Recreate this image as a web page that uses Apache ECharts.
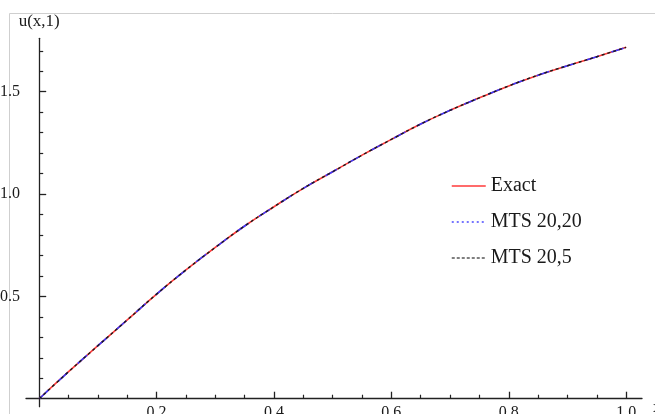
<!DOCTYPE html>
<html>
<head>
<meta charset="utf-8">
<script src="https://cdn.jsdelivr.net/npm/echarts@6/dist/echarts.min.js"></script>
<style>
html,body{margin:0;padding:0;background:#fff;overflow:hidden;}
#chart{width:655px;height:414px;}
</style>
</head>
<body>
<div id="chart"></div>
<script>
var xValues = [0, 0.05, 0.1, 0.15, 0.2, 0.25, 0.3, 0.35, 0.4, 0.45, 0.5, 0.55, 0.6, 0.65, 0.7, 0.75, 0.8, 0.85, 0.9, 0.95, 1.0];
var exactValues = [0, 0.132, 0.259, 0.385, 0.511, 0.629, 0.739, 0.844, 0.938, 1.028, 1.109, 1.190, 1.267, 1.342, 1.409, 1.470, 1.528, 1.581, 1.627, 1.671, 1.717];
var mts2020Values = [0, 0.132, 0.259, 0.385, 0.511, 0.629, 0.739, 0.844, 0.938, 1.028, 1.109, 1.190, 1.267, 1.342, 1.409, 1.470, 1.528, 1.581, 1.627, 1.671, 1.717];
var mts205Values = [0, 0.132, 0.259, 0.385, 0.511, 0.629, 0.739, 0.844, 0.938, 1.028, 1.109, 1.190, 1.267, 1.342, 1.409, 1.470, 1.528, 1.581, 1.627, 1.671, 1.717];
var xMajorTicks = [0.2, 0.4, 0.6, 0.8, 1.0];
var xMinorTicks = [0.05, 0.1, 0.15, 0.25, 0.3, 0.35, 0.45, 0.5, 0.55, 0.65, 0.7, 0.75, 0.85, 0.9, 0.95];
var yMajorTicks = [0.5, 1.0, 1.5];
var yMinorTicks = [0.1, 0.2, 0.3, 0.4, 0.6, 0.7, 0.8, 0.9, 1.1, 1.2, 1.3, 1.4, 1.6, 1.7];
var seriesNames = ['Exact', 'MTS 20,20', 'MTS 20,5'];

function pairs(xs, ys) { return xs.map(function (x, i) { return [x, ys[i]]; }); }

var FONT = 'Liberation Serif';
var X_MIN = -0.0225, X_MAX = 1.027, Y_MIN = -0.039, Y_MAX = 1.761;

var chart = echarts.init(document.getElementById('chart'), null, {renderer: 'canvas'});
chart.setOption({
  animation: false,
  backgroundColor: '#ffffff',
  grid: {left: 26, right: 13, top: 38.3, bottom: 7.3, containLabel: false, outerBoundsMode: 'none'},
  graphic: [
    {type: 'line', shape: {x1: 9.5, y1: 13.5, x2: 655, y2: 13.5}, style: {stroke: '#cfcfcf', lineWidth: 1}, silent: true},
    {type: 'line', shape: {x1: 9.5, y1: 13.5, x2: 9.5, y2: 414}, style: {stroke: '#cfcfcf', lineWidth: 1}, silent: true}
  ],
  legend: {
    orient: 'vertical',
    left: 446,
    top: 171,
    itemWidth: 34,
    itemHeight: 14,
    itemGap: 16,
    textStyle: {fontFamily: FONT, fontSize: 20, color: '#1a1a1a'},
    data: [
      {name: 'Exact', itemStyle: {opacity: 0}, lineStyle: {color: '#ff3a3a', width: 1.5, type: 'solid'}},
      {name: 'MTS 20,20', itemStyle: {opacity: 0}, lineStyle: {color: '#4a4aff', width: 1.5, type: [2, 3]}},
      {name: 'MTS 20,5', itemStyle: {opacity: 0}, lineStyle: {color: '#555555', width: 1.3, type: [3, 2]}}
    ]
  },
  xAxis: [
    {
      type: 'value', position: 'bottom', min: X_MIN, max: X_MAX,
      name: 'x', nameLocation: 'end', nameGap: 11,
      nameTextStyle: {fontFamily: FONT, fontSize: 17, color: '#1a1a1a', align: 'left', verticalAlign: 'top'},
      axisLine: {show: true, onZero: true, onZeroAxisIndex: 0, lineStyle: {color: '#222', width: 1.3}},
      axisTick: {show: true, inside: true, length: 7, customValues: xMajorTicks, lineStyle: {color: '#222', width: 1.3}},
      axisLabel: {show: true, customValues: xMajorTicks, margin: -2, fontFamily: FONT, fontSize: 16, color: '#1a1a1a',
        formatter: function (v) { return v.toFixed(1); }},
      splitLine: {show: false}
    },
    {
      type: 'value', position: 'bottom', min: X_MIN, max: X_MAX,
      axisLine: {show: false, onZero: true, onZeroAxisIndex: 0},
      axisTick: {show: true, inside: true, length: 4, customValues: xMinorTicks, lineStyle: {color: '#222', width: 1.2}},
      axisLabel: {show: false},
      splitLine: {show: false}
    }
  ],
  yAxis: [
    {
      type: 'value', position: 'left', min: Y_MIN, max: Y_MAX,
      name: 'u(x,1)', nameLocation: 'end', nameGap: 17,
      nameTextStyle: {fontFamily: FONT, fontSize: 17, color: '#1a1a1a', align: 'center', verticalAlign: 'middle'},
      axisLine: {show: true, onZero: true, onZeroAxisIndex: 0, lineStyle: {color: '#222', width: 1.3}},
      axisTick: {show: true, inside: true, length: 7, customValues: yMajorTicks, lineStyle: {color: '#222', width: 1.3}},
      axisLabel: {show: true, customValues: yMajorTicks, margin: 6, fontFamily: FONT, fontSize: 16, color: '#1a1a1a',
        formatter: function (v) { return v.toFixed(1); }},
      splitLine: {show: false}
    },
    {
      type: 'value', position: 'left', min: Y_MIN, max: Y_MAX,
      axisLine: {show: false, onZero: true, onZeroAxisIndex: 0},
      axisTick: {show: true, inside: true, length: 4, customValues: yMinorTicks, lineStyle: {color: '#222', width: 1.2}},
      axisLabel: {show: false},
      splitLine: {show: false}
    }
  ],
  series: [
    {name: seriesNames[0], type: 'line', xAxisIndex: 0, yAxisIndex: 0, data: pairs(xValues, exactValues),
      showSymbol: false, symbol: 'none', smooth: true, z: 2,
      lineStyle: {color: '#ff3a3a', width: 1.6, type: 'solid'}, itemStyle: {color: '#ff3a3a'}},
    {name: seriesNames[1], type: 'line', xAxisIndex: 0, yAxisIndex: 0, data: pairs(xValues, mts2020Values),
      showSymbol: false, symbol: 'none', smooth: true, z: 3,
      lineStyle: {color: '#3a3aff', width: 1.6, type: [13, 13]}, itemStyle: {color: '#3a3aff'}},
    {name: seriesNames[2], type: 'line', xAxisIndex: 0, yAxisIndex: 0, data: pairs(xValues, mts205Values),
      showSymbol: false, symbol: 'none', smooth: true, z: 4,
      lineStyle: {color: '#1a1a1a', width: 1.4, type: [3, 3]}, itemStyle: {color: '#1a1a1a'}}
  ]
});
</script>
</body>
</html>
